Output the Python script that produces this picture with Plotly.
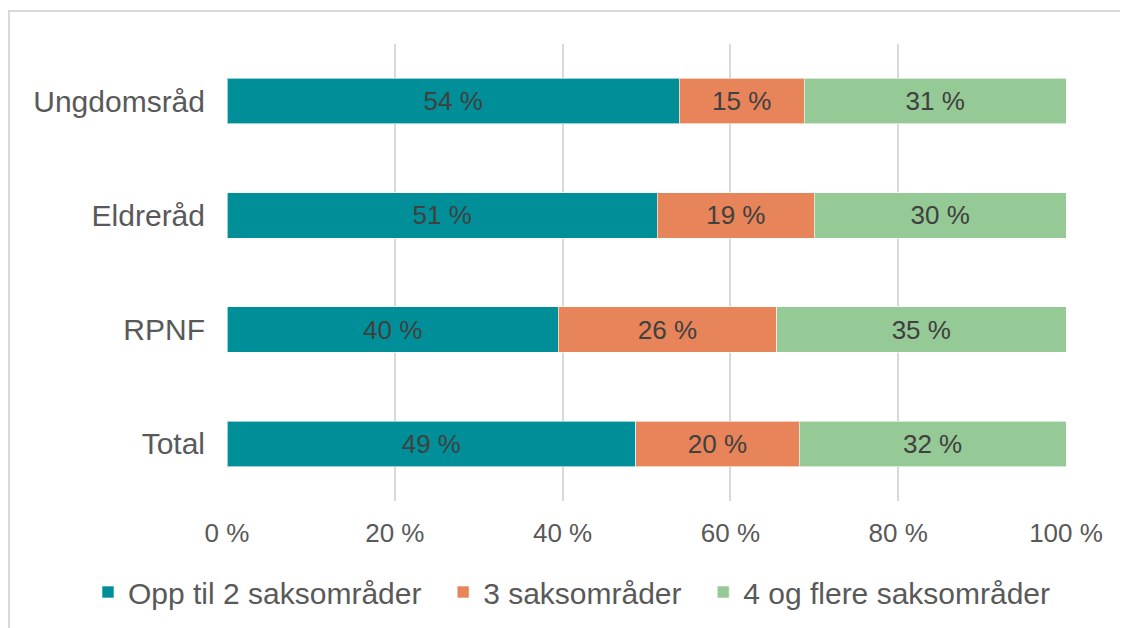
import plotly.graph_objects as go

categories = ["Ungdomsråd", "Eldreråd", "RPNF", "Total"]
series_names = ["Opp til 2 saksområder", "3 saksområder", "4 og flere saksområder"]
opp_til_2 = [53.9, 51.3, 39.5, 48.7]
tre = [14.9, 18.7, 26.0, 19.5]
fire_pluss = [31.2, 30.0, 34.5, 31.8]
colors = ["#008F98", "#E8845A", "#95C995"]
x_tickvals = [0, 20, 40, 60, 80, 100]
x_ticktext = ["0 %", "20 %", "40 %", "60 %", "80 %", "100 %"]

FONT = "Liberation Sans, Arial, sans-serif"
PAD = "\u00a0\u00a0"  # visual spacing after legend entries

fig = go.Figure()
for name, vals, col in zip(series_names, [opp_til_2, tre, fire_pluss], colors):
    fig.add_trace(go.Bar(
        y=categories, x=vals, name=name + PAD, orientation="h",
        marker=dict(color=col, line=dict(color="rgba(255,255,255,0.6)", width=1)),
        texttemplate="%{x:.0f} %", textposition="inside", insidetextanchor="middle",
        insidetextfont=dict(family=FONT, size=26, color="#404040"),
        textangle=0,
    ))

W, H = 1128, 628
# page body has an 8px margin; figure coords = screen coords - 8
L, R, T, B = 219, 70, 36, 135
pw, ph = W - L - R, H - T - B

def px(x):
    return (x - L) / pw

def py(y):
    return (H - B - y) / ph

fig.update_layout(
    width=W, height=H,
    barmode="stack", bargap=0.6,
    margin=dict(l=L, r=R, t=T, b=B, pad=0),
    paper_bgcolor="white", plot_bgcolor="white",
    font=dict(family=FONT, color="#595959"),
    xaxis=dict(range=[0, 100], tickvals=x_tickvals, ticktext=x_ticktext,
               showgrid=True, gridcolor="#D9D9D9", gridwidth=1.5,
               zeroline=False, showline=False, ticks="",
               tickfont=dict(size=26, color="#595959", family=FONT),
               ticklabelstandoff=14, fixedrange=True, automargin=False),
    yaxis=dict(autorange="reversed", showgrid=False, zeroline=False, showline=False,
               ticks="", tickfont=dict(size=30, color="#595959", family=FONT),
               ticklabelstandoff=21, automargin=False),
    legend=dict(orientation="h", x=px(80), xanchor="left", y=py(584), yanchor="middle",
                font=dict(size=30, color="#595959", family=FONT),
                traceorder="normal", bgcolor="rgba(0,0,0,0)"),
    uniformtext=dict(mode="show", minsize=10),
    shapes=[
        dict(type="line", xref="paper", yref="paper", x0=px(0), x1=px(1128), y0=py(3), y1=py(3),
             line=dict(color="#D9D9D9", width=2)),
        dict(type="line", xref="paper", yref="paper", x0=px(1), x1=px(1), y0=py(3), y1=py(628),
             line=dict(color="#D9D9D9", width=2)),
    ],
)

fig.write_html("out.html")
